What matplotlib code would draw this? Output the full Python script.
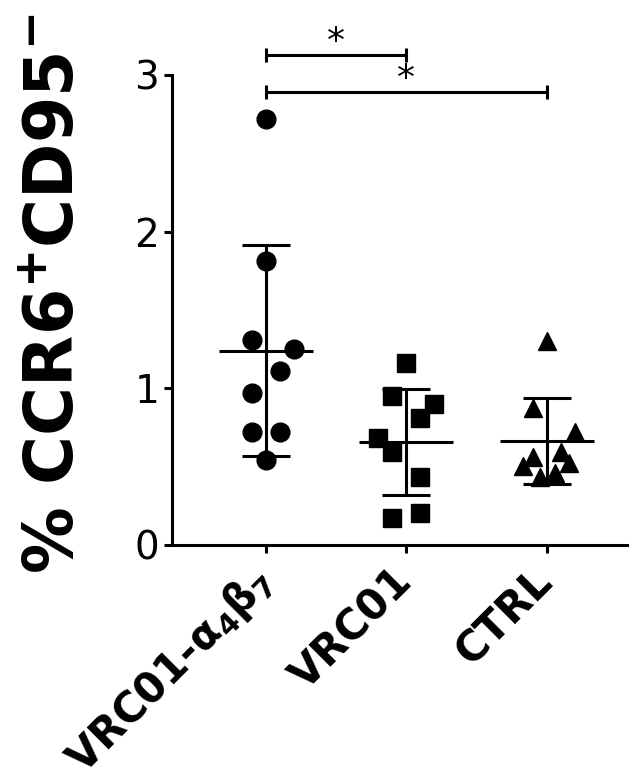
import numpy as np
import matplotlib
matplotlib.use("Agg")
import matplotlib.pyplot as plt

plt.rcParams['font.family'] = ['DejaVu Sans']
plt.rcParams['mathtext.fontset'] = 'dejavusans'
plt.rcParams['mathtext.default'] = 'regular'

# ---- data ----
categories = [r'VRC01-$\alpha_{4}\beta_{7}$', 'VRC01', 'CTRL']
vrc01_a4b7 = [2.72, 1.81, 1.31, 1.25, 1.11, 0.97, 0.72, 0.72, 0.54]
vrc01 = [1.16, 0.95, 0.90, 0.81, 0.68, 0.59, 0.43, 0.20, 0.17]
ctrl = [1.30, 0.87, 0.72, 0.59, 0.56, 0.52, 0.50, 0.46, 0.43]
series = [vrc01_a4b7, vrc01, ctrl]
jitter = [
    [0.0, 0.0, -0.10, 0.20, 0.10, -0.10, -0.10, 0.10, 0.0],
    [0.0, -0.10, 0.20, 0.10, -0.20, -0.10, 0.10, 0.10, -0.10],
    [0.0, -0.10, 0.20, 0.10, -0.10, 0.16, -0.17, 0.06, -0.05],
]
markers = ['o', 's', '^']
yticks = [0, 1, 2, 3]
# significance comparisons: (group a, group b, bracket y, label)
comparisons = [(0, 1, 3.13, '*'), (0, 2, 2.893, '*')]

W, H = 629, 776
fig = plt.figure(figsize=(W / 100, H / 100), dpi=100)
ax_left, ax_right = 171.7, 629.0
ax_top, ax_bot = 75.0, 544.7
ax = fig.add_axes([ax_left / W, 1 - ax_bot / H, (ax_right - ax_left) / W, (ax_bot - ax_top) / H])

lw = 2.2
for i, (vals, jit, m) in enumerate(zip(series, jitter, markers)):
    vals = np.array(vals)
    x = i + np.array(jit)
    mean = vals.mean()
    sd = vals.std(ddof=1)
    ax.plot([i, i], [mean - sd, mean + sd], color='black', lw=lw, zorder=2, solid_capstyle='butt')
    ax.plot([i - 0.17, i + 0.17], [mean + sd] * 2, color='black', lw=lw, zorder=2, solid_capstyle='butt')
    ax.plot([i - 0.17, i + 0.17], [mean - sd] * 2, color='black', lw=lw, zorder=2, solid_capstyle='butt')
    ax.plot([i - 0.335, i + 0.335], [mean] * 2, color='black', lw=lw, zorder=2, solid_capstyle='butt')
    ax.plot(x, vals, linestyle='none', marker=m, ms=13.5, color='black', zorder=3, clip_on=False)

for a, b, yb, lab in comparisons:
    ax.plot([a, b], [yb, yb], color='black', lw=lw, clip_on=False, solid_capstyle='butt')
    for xx in (a, b):
        ax.plot([xx, xx], [yb - 0.045, yb + 0.045], color='black', lw=lw, clip_on=False, solid_capstyle='butt')
    ax.text((a + b) / 2, yb - 0.03, lab, ha='center', va='bottom', fontsize=26, clip_on=False)

ax.set_xlim(-0.669, 2.586)
ax.set_ylim(0, 3)
ax.set_yticks(yticks)
ax.set_yticklabels([str(t) for t in yticks], fontsize=28)
ax.set_xticks(range(len(categories)))
ax.set_xticklabels(categories, fontsize=30, fontweight='bold', rotation=45,
                   ha='right', va='center', rotation_mode='anchor')
for s in ['top', 'right']:
    ax.spines[s].set_visible(False)
for s in ['left', 'bottom']:
    ax.spines[s].set_linewidth(lw)
ax.tick_params(axis='both', length=6, width=lw, direction='out')
ax.tick_params(axis='y', pad=3)
ax.tick_params(axis='x', pad=16)

ax.set_ylabel(r'% CCR6$^{\mathbf{+}}$CD95$^{\mathbf{-}}$', fontsize=48, fontweight='bold')
ax.yaxis.set_label_coords((87 - ax_left) / (ax_right - ax_left), (ax_bot - 294) / (ax_bot - ax_top))

fig.savefig('out.png', dpi=100)
